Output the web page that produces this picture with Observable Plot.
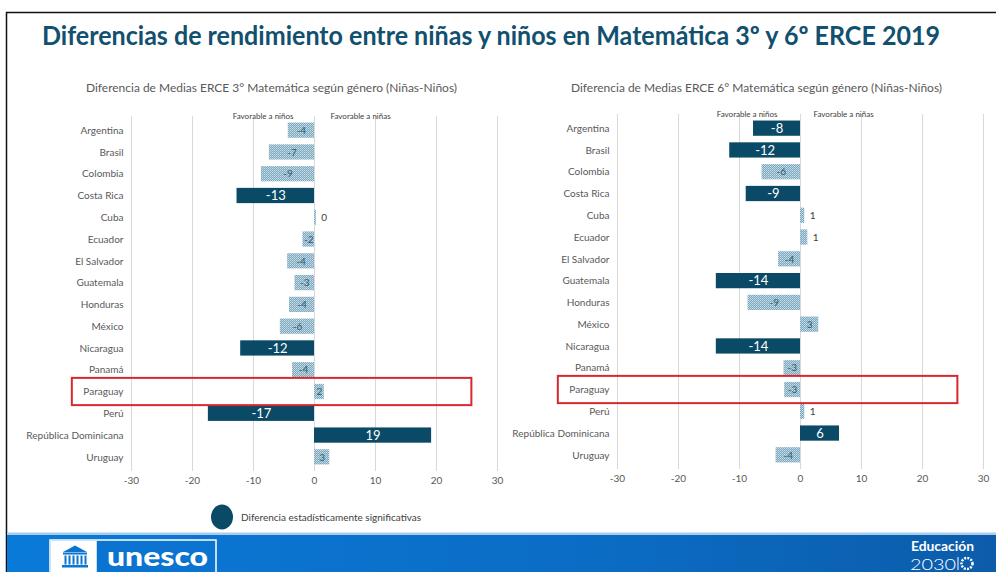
<!DOCTYPE html>
<html>
<head>
<meta charset="utf-8">
<script src="https://cdn.jsdelivr.net/npm/d3@7"></script>
<script src="https://cdn.jsdelivr.net/npm/@observablehq/plot@0.6"></script>
<style>
  body { margin: 0; background: #fff; }
  #wrap { position: relative; width: 996px; height: 572px; overflow: hidden; background: #fff; font-family: Lato, "Open Sans", sans-serif; }
  #wrap > svg, #wrap > figure, #wrap > div { position: absolute; }
</style>
</head>
<body>
<div id="wrap">
<svg id="bg" width="996" height="572" style="left:0;top:0">
  <defs>
    <linearGradient id="band" x1="0" x2="1" y1="0" y2="0">
      <stop offset="0" stop-color="#0A7AD8"/>
      <stop offset="0.6" stop-color="#0B6CC4"/>
      <stop offset="1" stop-color="#0C5CAA"/>
    </linearGradient>
    <pattern id="hatch" width="2" height="2" patternUnits="userSpaceOnUse">
      <rect width="2" height="2" fill="#7CA8BF"/>
      <rect width="1" height="1" fill="#CDE0EA"/>
      <rect x="1" y="1" width="1" height="1" fill="#B5CFDD"/>
    </pattern>
  </defs>
  <line x1="6" y1="12.5" x2="996" y2="12.5" stroke="#111" stroke-width="1.5"/>
  <line x1="6.5" y1="12" x2="6.5" y2="572" stroke="#111" stroke-width="1.5"/>
  <text id="title" x="42" y="45" textLength="898" lengthAdjust="spacingAndGlyphs" font-family="Lato" font-weight="700" font-size="26.5" fill="#12506F"></text>
  <text id="sub1" x="86" y="92" textLength="371" lengthAdjust="spacingAndGlyphs" font-family="Lato" font-size="11" fill="#595959"></text>
  <text id="sub2" x="571" y="92" textLength="371" lengthAdjust="spacingAndGlyphs" font-family="Lato" font-size="11" fill="#595959"></text>
  <ellipse cx="222" cy="517" rx="11" ry="12.5" fill="#0B4A66"/>
  <text id="legend" x="241" y="521" font-family="Lato" font-size="10" fill="#404040"></text>
  <rect x="7" y="532.5" width="989" height="2.5" fill="#A7CDEE"/>
  <rect x="7" y="535" width="989" height="37" fill="url(#band)"/>
  <rect x="50" y="540" width="166" height="34" fill="#0B74D0" stroke="#fff" stroke-width="1.5"/>
  <rect x="50.75" y="540.75" width="46" height="33" fill="#fff"/>
  <g fill="#0B74D0">
    <polygon points="63,552 75,545.5 87,552"/>
    <rect x="63" y="552.5" width="24" height="2"/>
    <rect x="64.5" y="555.5" width="2" height="9"/>
    <rect x="68.5" y="555.5" width="2" height="9"/>
    <rect x="72.5" y="555.5" width="2" height="9"/>
    <rect x="76.5" y="555.5" width="2" height="9"/>
    <rect x="80.5" y="555.5" width="2" height="9"/>
    <rect x="84.5" y="555.5" width="2" height="9"/>
    <rect x="62" y="565" width="26" height="2.5"/>
  </g>
  <text x="107" y="566" textLength="101" lengthAdjust="spacingAndGlyphs" font-family="Lato" font-weight="900" font-size="26" fill="#fff">unesco</text>
  <text x="911" y="551" textLength="63" lengthAdjust="spacingAndGlyphs" font-family="Lato" font-weight="700" font-size="12.5" fill="#fff">Educación</text>
  <text x="910" y="570" textLength="46" lengthAdjust="spacingAndGlyphs" font-family="Lato" font-weight="300" font-size="16" fill="#fff">2030</text>
  <line x1="958" y1="557" x2="958" y2="570" stroke="#fff" stroke-width="1"/>
  <circle cx="967" cy="563.5" r="5.5" fill="none" stroke="#fff" stroke-width="2.5" stroke-dasharray="2 1.2"/>
</svg>
</div>
<script>
// ---- data ----
const titleText = "Diferencias de rendimiento entre niñas y niños en Matemática 3º y 6º ERCE 2019";
const subtitle3 = "Diferencia de Medias ERCE 3° Matemática según género (Niñas-Niños)";
const subtitle6 = "Diferencia de Medias ERCE 6° Matemática según género (Niñas-Niños)";
const legendText = "Diferencia estadísticamente significativas";
const sideLabels = ["Favorable a niños", "Favorable a niñas"];

const countries = ["Argentina","Brasil","Colombia","Costa Rica","Cuba","Ecuador","El Salvador","Guatemala","Honduras","México","Nicaragua","Panamá","Paraguay","Perú","República Dominicana","Uruguay"];
const diff3 = [-4.3,-7.4,-8.7,-12.7,0.3,-1.9,-4.4,-3.2,-4.1,-5.6,-12.1,-3.6,1.6,-17.4,19.2,2.5];
const sig3  = [0,0,0,1,0,0,0,0,0,0,1,0,0,1,1,0];
const diff6 = [-7.7,-11.6,-6.3,-8.9,0.7,1.2,-3.6,-13.8,-8.6,3.0,-13.8,-2.7,-2.6,0.7,6.4,-4.0];
const sig6  = [1,1,0,1,0,0,0,1,0,0,1,0,0,0,1,0];
const xTicks = [-30,-20,-10,0,10,20,30];
const highlightCountry = "Paraguay";
const highlightRange = [-39.7, 25.8];

// ---- text ----
document.getElementById("title").textContent = titleText;
document.getElementById("sub1").textContent = subtitle3;
document.getElementById("sub2").textContent = subtitle6;
document.getElementById("legend").textContent = legendText;

const DARK = "#0B4A66";
const fmt = v => { const r = Math.round(v); return r === 0 ? "0" : String(r); };

function panel(values, sig, niñosDx, niñasDx) {
  const data = countries.map((c, i) => ({country: c, value: values[i], sig: !!sig[i]}));
  const sigData = data.filter(d => d.sig);
  const nsData = data.filter(d => !d.sig);
  const nsIn = nsData.filter(d => Math.abs(d.value) >= 1.5);
  const nsOut = nsData.filter(d => Math.abs(d.value) < 1.5);
  return Plot.plot({
    width: 507, height: 501,
    marginLeft: 131, marginRight: 10, marginTop: 116, marginBottom: 30,
    style: {fontFamily: "Lato, sans-serif", fontSize: "10px", color: "#595959", background: "transparent", overflow: "visible"},
    x: {domain: [-30, 30], ticks: xTicks, tickSize: 0, tickPadding: 5, label: null, tickFormat: d => String(d)},
    y: {domain: countries, padding: 0.3, round: false, tickSize: 0, tickPadding: 8, label: null},
    marks: [
      Plot.ruleX(xTicks, {x: d => d, stroke: "#D9D9D9", strokeWidth: 1}),
      Plot.barX(nsData, {x: "value", y: "country", fill: "url(#hatch)"}),
      Plot.barX(sigData, {x: "value", y: "country", fill: DARK}),
      Plot.text(sigData, {x: d => d.value / 2, y: "country", text: d => fmt(d.value), fill: "#fff", fontSize: 13}),
      Plot.text(nsIn, {x: d => d.value / 2, y: "country", text: d => fmt(d.value), fill: "#2B5A72", fontSize: 10}),
      Plot.text(nsOut, {x: "value", y: "country", text: d => fmt(d.value), dx: 5, textAnchor: "start", fill: "#404040", fontSize: 10}),
      Plot.text([sideLabels[0]], {x: () => 0, frameAnchor: "top", dy: -3, dx: niñosDx, textAnchor: "end", text: d => d, fontSize: 8, fill: "#404040"}),
      Plot.text([sideLabels[1]], {x: () => 0, frameAnchor: "top", dy: -3, dx: niñasDx, textAnchor: "start", text: d => d, fontSize: 8, fill: "#404040"}),
      Plot.barX([highlightCountry], {y: d => d, x1: highlightRange[0], x2: highlightRange[1], fill: "none", stroke: "#D7282F", strokeWidth: 2, insetTop: -6, insetBottom: -6})
    ]
  });
}

const wrap = document.getElementById("wrap");
const p1 = panel(diff3, sig3, -21, 16);
p1.style.position = "absolute"; p1.style.left = "0px"; p1.style.top = "0px";
wrap.appendChild(p1);
const p2 = panel(diff6, sig6, -23, 13);
p2.style.position = "absolute"; p2.style.left = "486px"; p2.style.top = "-2px";
wrap.appendChild(p2);
</script>
</body>
</html>
